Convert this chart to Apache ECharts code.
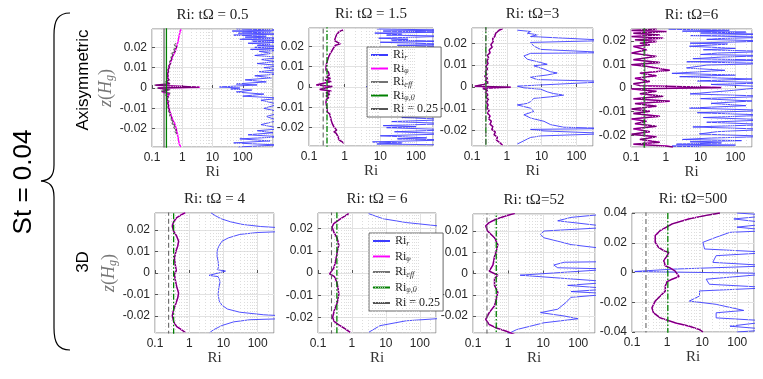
<!DOCTYPE html>
<html>
<head>
<meta charset="utf-8">
<script src="https://cdn.jsdelivr.net/npm/echarts@6/dist/echarts.min.js"></script>
<style>
html, body { margin: 0; padding: 0; background: #fff; }
#chart { width: 763px; height: 379px; }
</style>
</head>
<body>
<div id="chart"></div>
<script>
// panel titles, axis limits, reference values
const titles = ['Ri: tΩ = 0.5', 'Ri: tΩ = 1.5', 'Ri: tΩ=3', 'Ri: tΩ=6',
                'Ri: tΩ = 4', 'Ri: tΩ = 6', 'Ri: tΩ=52', 'Ri: tΩ=500'];
const xMax = [1000, 300, 300, 300, 300, 300, 300, 300];
const zMax = [0.029, 0.029, 0.027, 0.025, 0.028, 0.027, 0.028, 0.04];
const riPhi0 = [0.3, 0.32, 0.25, 0.24, 0.35, 0.36, 0.46, 1.05];
const riCrit = 0.25;
const minorTicks = [0.2, 0.3, 0.4, 0.5, 0.6, 0.7, 0.8, 0.9, 2, 3, 4, 5, 6, 7, 8, 9,
                    20, 30, 40, 50, 60, 70, 80, 90, 200, 300, 400, 500, 600, 700, 800, 900];

// ---- Axisymmetric, tΩ = 0.5 ----
const riR1 = [[60,0.029],[2000,0.0285],[45,0.028],[900,0.0275],[70,0.027],[2000,0.0265],[50,0.026],[600,0.0255],[120,0.025],[2000,0.0245],[80,0.024],[1500,0.0235],[200,0.023],[2000,0.0225],[150,0.022],[800,0.0215],[300,0.021],[2000,0.0205],[250,0.02],[1200,0.0195],[180,0.019],[2000,0.0185],[350,0.018],[900,0.017],[250,0.016],[2000,0.015],[400,0.014],[1200,0.013],[300,0.012],[2000,0.011],[500,0.01],[1500,0.009],[350,0.008],[2000,0.007],[250,0.006],[900,0.005],[120,0.004],[600,0.003],[60,0.002],[300,0.0015],[17,0.0005],[80,0.0],[40,-0.0005],[200,-0.001],[60,-0.002],[500,-0.003],[100,-0.004],[2000,-0.005],[400,-0.006],[1500,-0.008],[500,-0.01],[2000,-0.012],[600,-0.014],[1500,-0.016],[400,-0.018],[2000,-0.02],[300,-0.021],[1000,-0.022],[150,-0.023],[2000,-0.024],[80,-0.025],[800,-0.026],[50,-0.027],[1500,-0.028],[70,-0.029]];
const riPhi1 = [[0.95,0.029],[0.85,0.028],[0.8,0.026],[0.75,0.024],[0.7,0.022],[0.65,0.02],[0.58,0.018],[0.5,0.016],[0.44,0.014],[0.4,0.012],[0.36,0.01],[0.34,0.008],[0.33,0.006],[0.35,0.004],[0.3,0.003],[0.38,0.002],[0.13,0.0014],[3.8,0.0004],[0.16,0.0],[0.35,-0.001],[0.22,-0.002],[0.38,-0.003],[0.3,-0.005],[0.34,-0.007],[0.36,-0.01],[0.4,-0.012],[0.44,-0.014],[0.5,-0.016],[0.58,-0.018],[0.63,-0.02],[0.68,-0.022],[0.72,-0.024],[0.76,-0.026],[0.82,-0.028],[0.9,-0.029]];
const riEff1 = [[0.62,0.022],[0.55,0.021],[0.68,0.02],[0.52,0.019],[0.6,0.018],[0.45,0.017],[0.5,0.016],[0.42,0.015],[0.46,0.014],[0.38,0.013],[0.42,0.012],[0.35,0.011],[0.38,0.01],[0.33,0.009],[0.36,0.008],[0.31,0.007],[0.35,0.006],[0.3,0.005],[0.38,0.004],[0.28,0.003],[0.4,0.0022],[0.12,0.0014],[3.6,0.0004],[0.15,0.0],[0.4,-0.0008],[0.2,-0.0015],[0.4,-0.0025],[0.28,-0.0035],[0.36,-0.0045],[0.3,-0.0055],[0.37,-0.0065],[0.32,-0.0075],[0.36,-0.0085],[0.33,-0.0095],[0.38,-0.0105],[0.35,-0.0115],[0.42,-0.0125],[0.38,-0.0135],[0.45,-0.0145],[0.42,-0.0155],[0.5,-0.0165],[0.46,-0.0175],[0.58,-0.0185],[0.52,-0.0195],[0.64,-0.0205],[0.58,-0.0215],[0.66,-0.0225]];

// ---- Axisymmetric, tΩ = 1.5 ----
const riR2 = [[8,0.0285],[1000,0.028],[12,0.0275],[1000,0.027],[7,0.0265],[40,0.026],[15,0.0255],[1000,0.025],[9,0.024],[60,0.0235],[20,0.023],[1000,0.0225],[10,0.022],[1000,0.021],[30,0.0205],[1000,0.02],[15,0.019],[1000,0.018],[25,0.0175],[1000,0.017],[50,0.016],[1000,0.015],[1000,0.002],[4,0.0003],[1000,-0.001],[1000,-0.014],[40,-0.015],[1000,-0.016],[20,-0.017],[1000,-0.018],[12,-0.019],[100,-0.0195],[15,-0.02],[1000,-0.021],[25,-0.022],[1000,-0.023],[10,-0.024],[200,-0.025],[30,-0.0255],[1000,-0.026],[6,-0.027],[40,-0.0275],[8,-0.028],[1000,-0.0285]];
const riPhi2 = [[0.9,0.028],[0.7,0.0272],[0.78,0.0265],[0.6,0.0258],[0.66,0.025],[0.55,0.0243],[0.62,0.0236],[0.52,0.0228],[0.58,0.0221],[0.75,0.0212],[0.55,0.0205],[0.6,0.0198],[0.48,0.019],[0.52,0.0183],[0.43,0.0175],[0.46,0.0168],[0.38,0.016],[0.42,0.0152],[0.35,0.0145],[0.38,0.0137],[0.33,0.013],[0.36,0.0122],[0.31,0.0114],[0.35,0.0106],[0.3,0.0098],[0.34,0.009],[0.3,0.0082],[0.35,0.0074],[0.31,0.0066],[0.37,0.0058],[0.3,0.005],[0.4,0.0042],[0.28,0.0034],[0.42,0.0026],[0.25,0.0018],[0.16,0.001],[0.45,0.0003],[0.3,-0.0004],[0.2,-0.0012],[0.42,-0.002],[0.3,-0.0028],[0.38,-0.0036],[0.3,-0.0044],[0.36,-0.0052],[0.31,-0.006],[0.35,-0.0068],[0.3,-0.0076],[0.34,-0.0084],[0.31,-0.0092],[0.35,-0.01],[0.32,-0.0108],[0.36,-0.0116],[0.33,-0.0124],[0.38,-0.0132],[0.34,-0.014],[0.4,-0.0148],[0.36,-0.0156],[0.42,-0.0164],[0.38,-0.0172],[0.45,-0.018],[0.42,-0.0188],[0.5,-0.0196],[0.45,-0.0204],[0.6,-0.0212],[0.5,-0.022],[0.58,-0.0228],[0.52,-0.0236],[0.65,-0.0244],[0.58,-0.0252],[0.7,-0.026],[0.75,-0.0268],[0.95,-0.0276]];

// ---- Axisymmetric, tΩ = 3 ----
const riR3 = [[2,0.026],[4.8,0.0254],[3.9,0.0246],[7.5,0.0239],[4.8,0.0231],[1000,0.0213],[4.8,0.0204],[6,0.0187],[9.4,0.0172],[1000,0.0157],[4.8,0.0154],[3.1,0.0142],[3.9,0.0127],[9.4,0.0112],[14.5,0.0104],[6,0.0097],[11.7,0.0082],[18,0.007],[28,0.0064],[14.5,0.0055],[4.8,0.0045],[7.5,0.0034],[1000,0.0025],[2,0.0004],[3.1,-0.0004],[9.4,-0.001],[14.5,-0.0022],[22,-0.003],[43,-0.0037],[18,-0.0045],[6,-0.0052],[4.8,-0.0067],[3.9,-0.0075],[2,-0.0082],[4.8,-0.0097],[6,-0.0112],[3.1,-0.0127],[4.8,-0.0142],[11.7,-0.0157],[18,-0.0172],[43,-0.0184],[1000,-0.019],[4.8,-0.0194],[11.7,-0.0201],[1000,-0.0213],[9.4,-0.0224],[4.8,-0.0231],[3.1,-0.0246],[2,-0.0261]];
const riPhi3 = [[0.75,0.0266],[0.6,0.026],[0.54,0.0254],[0.48,0.0246],[0.43,0.0239],[0.45,0.0231],[0.39,0.0221],[0.41,0.0209],[0.35,0.0194],[0.38,0.0182],[0.31,0.017],[0.33,0.0157],[0.28,0.0145],[0.3,0.0133],[0.27,0.0119],[0.29,0.0106],[0.25,0.0095],[0.28,0.0082],[0.24,0.007],[0.27,0.0058],[0.23,0.0049],[0.28,0.004],[0.24,0.003],[0.3,0.002],[0.22,0.0012],[0.12,0.0004],[1.3,-0.0001],[0.2,-0.0006],[0.28,-0.0015],[0.24,-0.0025],[0.29,-0.0035],[0.25,-0.0046],[0.3,-0.0058],[0.26,-0.007],[0.29,-0.0082],[0.27,-0.0095],[0.31,-0.0108],[0.28,-0.012],[0.33,-0.0133],[0.3,-0.0145],[0.36,-0.0157],[0.33,-0.017],[0.4,-0.0182],[0.37,-0.0194],[0.47,-0.0206],[0.43,-0.0218],[0.54,-0.023],[0.5,-0.0242],[0.62,-0.0254],[0.75,-0.0266]];

// ---- Axisymmetric, tΩ = 6 ----
const riR4 = [[1.2,0.0249],[67,0.0245],[3,0.0241],[200,0.0237],[10,0.0233],[1000,0.0228],[5,0.0222],[1000,0.0215],[40,0.021],[15,0.0206],[1000,0.0199],[5,0.019],[60,0.0186],[20,0.0182],[4.8,0.0177],[100,0.0168],[12,0.0162],[1000,0.0155],[30,0.0148],[10,0.0142],[1000,0.0137],[40,0.0131],[6,0.0124],[1000,0.0118],[4,0.0111],[1000,0.0104],[15,0.0097],[3.9,0.0085],[50,0.0075],[1.5,0.0062],[100,0.0055],[2.5,0.0048],[300,0.0038],[8,0.003],[1000,0.0022],[20,0.0015],[1000,0.0005],[60,-0.0012],[5,-0.0025],[1000,-0.0035],[10,-0.0045],[300,-0.0055],[20,-0.0065],[200,-0.0075],[4.8,-0.0085],[1000,-0.0095],[8,-0.0105],[1000,-0.0115],[12,-0.0125],[1000,-0.0135],[15,-0.0145],[1000,-0.0155],[6,-0.0165],[1000,-0.0175],[30,-0.0185],[9,-0.0195],[1000,-0.0205],[20,-0.0212],[3,-0.0218],[150,-0.0223],[5,-0.0228],[40,-0.0233],[2,-0.0238],[100,-0.0242],[1.5,-0.0246],[10,-0.0249]];
const riPhi4 = [[0.54,0.0249],[0.104,0.0244],[1.04,0.0239],[0.117,0.0232],[0.67,0.0225],[0.104,0.0218],[0.84,0.0211],[0.13,0.0204],[0.54,0.0197],[0.18,0.019],[0.35,0.0183],[0.117,0.0176],[0.28,0.0162],[0.104,0.0148],[0.54,0.0134],[0.117,0.012],[0.67,0.0108],[0.104,0.0099],[0.28,0.0092],[1.3,0.0075],[0.18,0.0063],[0.54,0.0052],[0.13,0.0041],[0.35,0.0028],[0.117,0.0018],[0.18,0.001],[39,0.0002],[0.104,-0.0004],[0.54,-0.0014],[0.18,-0.0024],[0.84,-0.0035],[0.117,-0.0046],[1.3,-0.0056],[0.13,-0.0066],[0.54,-0.0077],[0.104,-0.0089],[0.35,-0.0099],[0.117,-0.0108],[0.67,-0.012],[0.104,-0.0131],[0.28,-0.0141],[0.13,-0.0151],[0.54,-0.0162],[0.117,-0.0173],[0.35,-0.0185],[0.104,-0.0196],[0.54,-0.0207],[0.18,-0.0218],[0.67,-0.023],[0.117,-0.0238],[1.04,-0.0246],[1.6,-0.025]];

// ---- 3D, tΩ = 4 ----
const riR5 = [[4.3,0.0281],[6,0.0266],[9,0.0252],[16,0.0239],[35,0.0227],[120,0.0217],[1000,0.0208],[1000,0.0195],[100,0.0189],[30,0.018],[14,0.0164],[9,0.0148],[7.3,0.0125],[6.5,0.0102],[6.5,0.0078],[7,0.0055],[7.2,0.0031],[6.8,0.0015],[11.5,0.0009],[8,0.0002],[3.8,-0.0011],[7,-0.0017],[8,-0.004],[7.3,-0.007],[7,-0.01],[7.5,-0.013],[9,-0.015],[13,-0.0168],[30,-0.0183],[150,-0.0195],[1000,-0.0202],[1000,-0.0212],[60,-0.0218],[20,-0.0228],[9,-0.0245],[5,-0.0266],[4,-0.0278]];
const riPhi5 = [[0.76,0.0281],[0.61,0.0273],[0.43,0.0258],[0.35,0.0239],[0.32,0.0219],[0.35,0.0195],[0.43,0.0172],[0.49,0.0148],[0.46,0.0125],[0.41,0.0102],[0.37,0.007],[0.39,0.0039],[0.42,0.0011],[0.37,-0.0005],[0.39,-0.0031],[0.43,-0.0063],[0.49,-0.0094],[0.46,-0.0117],[0.41,-0.0141],[0.35,-0.0172],[0.32,-0.0198],[0.35,-0.0227],[0.43,-0.025],[0.61,-0.0266],[0.76,-0.0277]];

// ---- 3D, tΩ = 6 ----
const riR6 = [[3.1,0.0267],[8.4,0.0244],[40,0.0227],[350,0.0212],[1000,0.02],[1000,-0.02],[300,-0.0206],[40,-0.0215],[6.7,-0.0237],[3.1,-0.0267]];
const riPhi6 = [[0.8,0.0267],[0.46,0.0244],[0.29,0.0222],[0.26,0.0207],[0.29,0.0185],[0.37,0.0156],[0.41,0.0126],[0.37,0.0096],[0.33,0.0052],[0.29,0.0022],[0.22,-0.0004],[0.3,-0.0015],[0.35,-0.0037],[0.39,-0.0067],[0.41,-0.0096],[0.37,-0.0133],[0.3,-0.017],[0.27,-0.02],[0.3,-0.0218],[0.41,-0.0233],[0.57,-0.0247],[0.89,-0.0267]];

// ---- 3D, tΩ = 52 ----
const riR7 = [[1000,0.0283],[62,0.0264],[26,0.0248],[1000,0.0218],[10.5,0.02],[8.4,0.0184],[10.5,0.0168],[26,0.0152],[62,0.0136],[1000,0.0112],[1000,0.0056],[40,0.0053],[20,0.004],[26,0.0027],[1000,0.0021],[2.2,-0.0008],[1000,-0.004],[50,-0.0056],[1000,-0.0072],[62,-0.0085],[1000,-0.0096],[62,-0.0112],[45,-0.0136],[26,-0.0168],[8.4,-0.0184],[40,-0.02],[98,-0.0213],[10.5,-0.0232],[1.75,-0.0264],[0.89,-0.0288]];
const riPhi7 = [[1.56,0.0283],[0.9,0.0272],[0.46,0.0256],[0.29,0.024],[0.23,0.0224],[0.26,0.02],[0.41,0.0168],[0.51,0.0136],[0.46,0.0104],[0.41,0.008],[0.37,0.004],[0.29,0.0011],[0.51,-0.0008],[0.41,-0.0024],[0.41,-0.0056],[0.51,-0.0088],[0.46,-0.012],[0.41,-0.0152],[0.29,-0.0184],[0.23,-0.0216],[0.29,-0.024],[0.46,-0.0256],[0.9,-0.0272],[1.56,-0.0288]];

// ---- 3D, tΩ = 500 ----
const riR8 = [[98,0.04],[1000,0.0384],[80,0.036],[1000,0.033],[98,0.0305],[1000,0.0282],[62,0.027],[25,0.0237],[10.5,0.0203],[11.7,0.0158],[1000,0.0135],[25,0.0113],[20,0.0068],[1000,0.0045],[1.56,0.0023],[0.12,0.0007],[1000,-0.0007],[13,-0.0045],[16,-0.0079],[1000,-0.0102],[8.4,-0.0124],[8.4,-0.0158],[4.3,-0.0192],[25,-0.0214],[153,-0.0255],[25,-0.0271],[25,-0.0305],[1000,-0.0327],[62,-0.0361],[1000,-0.0384],[98,-0.04]];
const riPhi8 = [[32,0.04],[13,0.0384],[4.3,0.0361],[1.4,0.0327],[0.64,0.0282],[0.46,0.0248],[0.46,0.0203],[0.57,0.0169],[0.8,0.0147],[1.12,0.0135],[1,0.0113],[0.8,0.0079],[0.89,0.0045],[1.25,0.0029],[1.67,0.0011],[2.2,-0.0027],[1.4,-0.0045],[1,-0.0061],[0.89,-0.009],[0.89,-0.0124],[0.64,-0.0158],[0.46,-0.0192],[0.37,-0.0237],[0.41,-0.0271],[0.64,-0.0305],[1.75,-0.0339],[4.3,-0.0361],[8.4,-0.0384],[10.5,-0.04]];

const panels = [
  { r: riR1, phi: riPhi1, eff: riEff1 },
  { r: riR2, phi: riPhi2, eff: riPhi2 },
  { r: riR3, phi: riPhi3, eff: riPhi3 },
  { r: riR4, phi: riPhi4, eff: riPhi4 },
  { r: riR5, phi: riPhi5, eff: riPhi5 },
  { r: riR6, phi: riPhi6, eff: riPhi6 },
  { r: riR7, phi: riPhi7, eff: riPhi7 },
  { r: riR8, phi: riPhi8, eff: riPhi8 }
];

// left, top, width, height of each plot box
const boxes = [[152,29,121,118],[309,28,124,118],[472,28,121,118],[631,29,121,118],
               [155,213,119,120],[318,213,118,120],[473,214,122,119],[632,213,122,119]];

const sans = 'Liberation Sans, Arial, sans-serif';
const serif = 'Liberation Serif, Times New Roman, serif';
const blue = '#3c3cff', magenta = '#ff00ff', green = '#008000';

const grids = [], xAxes = [], yAxes = [], series = [], graphics = [];

panels.forEach(function (p, i) {
  const b = boxes[i];
  grids.push({ left: b[0], top: b[1], width: b[2], height: b[3], show: true,
               borderColor: '#8a8a8a', borderWidth: 1 });
  xAxes.push({
    gridIndex: i, type: 'log', logBase: 10, min: 0.1, max: xMax[i],
    name: 'Ri', nameLocation: 'middle', nameGap: 17,
    nameTextStyle: { fontFamily: serif, fontSize: 15, color: '#333' },
    axisLine: { show: false },
    axisTick: { inside: true, length: 3, lineStyle: { color: '#555' } },
    axisLabel: { fontFamily: sans, fontSize: 12, color: '#262626', margin: 5, showMaxLabel: false },
    splitLine: { show: true, lineStyle: { color: '#e2e2e2', width: 1 } }
  });
  const y = {
    gridIndex: i, type: 'value', min: -zMax[i], max: zMax[i],
    axisLine: { show: false },
    axisTick: { inside: true, length: 3, lineStyle: { color: '#555' } },
    axisLabel: { fontFamily: sans, fontSize: 12, color: '#262626', margin: 5,
                 showMinLabel: i === 7, showMaxLabel: i === 7 },
    splitLine: { show: true, lineStyle: { color: '#e2e2e2', width: 1 } }
  };
  if (i === 7) y.interval = 0.02;
  if (i === 0 || i === 4) {
    y.name = '{i|z}{p|(}{i|H}{s|g}{p|)}';
    y.nameLocation = 'middle';
    y.nameGap = 33;
    y.nameTextStyle = { color: '#777', fontFamily: serif, fontSize: 18, rich: {
      i: { fontFamily: serif, fontStyle: 'italic', fontSize: 18, color: '#777' },
      p: { fontFamily: serif, fontSize: 18, color: '#777' },
      s: { fontFamily: serif, fontStyle: 'italic', fontSize: 12, color: '#777', padding: [7, 0, 0, 0] }
    } };
  }
  yAxes.push(y);

  const ax = { xAxisIndex: i, yAxisIndex: i, type: 'line', symbol: 'none', showSymbol: false,
               animation: false, silent: true };
  series.push(Object.assign({}, ax, {
    name: 'Ri_r', data: p.r, z: 2,
    lineStyle: { color: blue, width: 0.9 }, itemStyle: { color: blue },
    markLine: {
      silent: true, symbol: ['none', 'none'], label: { show: false }, animation: false,
      lineStyle: { color: '#d4d4d4', type: [1, 2], width: 0.8 },
      emphasis: { disabled: true },
      data: minorTicks.filter(function (v) { return v < xMax[i]; }).map(function (v) { return { xAxis: v }; })
    }
  }));
  series.push(Object.assign({}, ax, {
    name: 'Ri_φ', data: p.phi, z: 3,
    lineStyle: { color: magenta, width: 1.5 }, itemStyle: { color: magenta }
  }));
  series.push(Object.assign({}, ax, {
    name: 'Ri_eff', data: p.eff, z: 4,
    lineStyle: { color: '#000', width: 1.3, opacity: 0.55 }, itemStyle: { color: '#555' }
  }));
  series.push(Object.assign({}, ax, {
    name: 'Ri_φ,0', data: [[riPhi0[i], -1], [riPhi0[i], 1]], z: 5,
    lineStyle: { color: green, width: 1.3, type: i === 0 ? 'solid' : [6, 2, 1.5, 2] },
    itemStyle: { color: green }
  }));
  series.push(Object.assign({}, ax, {
    name: 'Ri = 0.25', data: [[riCrit, -1], [riCrit, 1]], z: 5,
    lineStyle: { color: i === 0 ? '#555' : '#666', width: 1.1, type: i === 0 ? 'solid' : [5, 3] },
    itemStyle: { color: '#666' }
  }));

  graphics.push({
    type: 'text', x: b[0] + b[2] / 2, y: b[1] - 14,
    style: { text: titles[i], align: 'center', verticalAlign: 'middle',
             font: '15px ' + serif, fill: '#222' }
  });
});

const legendNames = ['Ri_r', 'Ri_φ', 'Ri_eff', 'Ri_φ,0', 'Ri = 0.25'];
const legendRich = {
  'Ri_r': '{a|Ri}{b|r}', 'Ri_φ': '{a|Ri}{b|φ}', 'Ri_eff': '{a|Ri}{b|eff}',
  'Ri_φ,0': '{a|Ri}{b|φ,0}', 'Ri = 0.25': '{a|Ri = 0.25}'
};
function makeLegend(left, top, gap) {
  return {
    data: legendNames, orient: 'vertical', left: left, top: top,
    itemWidth: 17, itemHeight: 10, itemGap: gap,
    backgroundColor: '#fff', borderColor: '#444', borderWidth: 0.8,
    padding: [2, 3, 2, 3], selectedMode: false,
    itemStyle: { color: 'rgba(0,0,0,0)', borderWidth: 0 },
    formatter: function (n) { return legendRich[n]; },
    textStyle: { fontFamily: serif, fontSize: 12, color: '#222', rich: {
      a: { fontFamily: serif, fontSize: 12, color: '#222' },
      b: { fontFamily: serif, fontSize: 8, fontStyle: 'italic', color: '#222', padding: [5, 0, 0, 0] }
    } }
  };
}

// curly brace on the left
const brace = { stroke: '#000', fill: null, lineWidth: 1.2 };
graphics.push(
  { type: 'bezierCurve', shape: { x1: 70, y1: 13, cpx1: 58, cpy1: 13, cpx2: 54, cpy2: 20, x2: 54, y2: 35 }, style: brace },
  { type: 'line', shape: { x1: 54, y1: 35, x2: 54, y2: 165 }, style: brace },
  { type: 'bezierCurve', shape: { x1: 54, y1: 165, cpx1: 54, cpy1: 176, cpx2: 50, cpy2: 180, x2: 41, y2: 181 }, style: brace },
  { type: 'bezierCurve', shape: { x1: 41, y1: 181, cpx1: 50, cpy1: 182, cpx2: 54, cpy2: 186, x2: 54, y2: 197 }, style: brace },
  { type: 'line', shape: { x1: 54, y1: 197, x2: 54, y2: 328 }, style: brace },
  { type: 'bezierCurve', shape: { x1: 54, y1: 328, cpx1: 54, cpy1: 343, cpx2: 58, cpy2: 350, x2: 70, y2: 350 }, style: brace },
  { type: 'text', x: 24, y: 182, rotation: Math.PI / 2,
    style: { text: 'St = 0.04', align: 'center', verticalAlign: 'middle', font: '26px ' + sans, fill: '#000' } },
  { type: 'text', x: 83, y: 80, rotation: Math.PI / 2,
    style: { text: 'Axisymmetric', align: 'center', verticalAlign: 'middle', font: '17px ' + sans, fill: '#000' } },
  { type: 'text', x: 83, y: 262, rotation: Math.PI / 2,
    style: { text: '3D', align: 'center', verticalAlign: 'middle', font: '17px ' + sans, fill: '#000' } }
);

const chart = echarts.init(document.getElementById('chart'), null, { renderer: 'canvas' });
chart.setOption({
  animation: false,
  backgroundColor: '#fff',
  grid: grids,
  xAxis: xAxes,
  yAxis: yAxes,
  legend: [makeLegend(367, 47, 1), makeLegend(369, 233, 3)],
  series: series,
  graphic: graphics
});
</script>
</body>
</html>
